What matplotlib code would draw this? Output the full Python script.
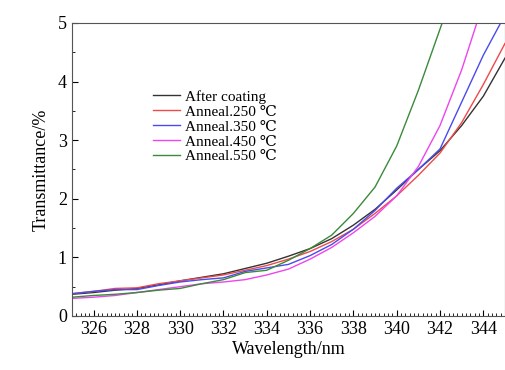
import matplotlib
matplotlib.use("Agg")
import matplotlib.pyplot as plt
from matplotlib.ticker import MultipleLocator

plt.rcParams['font.family'] = ['Liberation Serif', 'DejaVu Serif', 'DejaVu Sans']

x_black = [325, 326, 327, 328, 329, 330, 331, 332, 333, 334, 335, 336, 337, 338, 339, 340, 341, 342, 343, 344, 345]
y_black = [0.37, 0.40, 0.44, 0.47, 0.53, 0.60, 0.66, 0.72, 0.81, 0.90, 1.02, 1.15, 1.32, 1.55, 1.82, 2.15, 2.50, 2.82, 3.25, 3.75, 4.40]

x_red = [325, 326, 327, 328, 329, 330, 331, 332, 333, 334, 335, 336, 337, 338, 339, 340, 341, 342, 343, 344, 345]
y_red = [0.38, 0.42, 0.47, 0.48, 0.55, 0.60, 0.65, 0.70, 0.78, 0.86, 0.97, 1.10, 1.27, 1.48, 1.75, 2.05, 2.40, 2.78, 3.30, 3.95, 4.65]

x_blue = [325, 326, 327, 328, 329, 330, 331, 332, 333, 334, 335, 336, 337, 338, 339, 340, 341, 342, 343, 344, 344.8]
y_blue = [0.38, 0.42, 0.45, 0.45, 0.52, 0.58, 0.62, 0.65, 0.76, 0.82, 0.88, 1.03, 1.22, 1.48, 1.80, 2.18, 2.50, 2.85, 3.65, 4.45, 5.0]

x_mag = [325, 326, 327, 328, 329, 330, 331, 332, 333, 334, 335, 336, 337, 338, 339, 340, 341, 342, 343, 343.7]
y_mag = [0.30, 0.32, 0.35, 0.40, 0.45, 0.50, 0.55, 0.58, 0.62, 0.70, 0.80, 0.97, 1.17, 1.42, 1.70, 2.05, 2.55, 3.25, 4.20, 5.0]

x_green = [325, 326, 327, 328, 329, 330, 331, 332, 333, 334, 335, 336, 337, 338, 339, 340, 341, 342.1]
y_green = [0.32, 0.35, 0.37, 0.40, 0.44, 0.47, 0.55, 0.62, 0.74, 0.78, 0.95, 1.15, 1.38, 1.75, 2.20, 2.90, 3.85, 5.0]

labels = ["After coating", "Anneal.250 \u2103", "Anneal.350 \u2103", "Anneal.450 \u2103", "Anneal.550 \u2103"]
colors = ["#333333", "#ee4a4a", "#4a4aee", "#ee44ee", "#3a8a3a"]

fig = plt.figure(figsize=(5.06, 3.70), dpi=100)
ax = fig.add_axes([0.142, 0.146, 0.856, 0.792])

series = [(x_black, y_black), (x_red, y_red), (x_blue, y_blue), (x_mag, y_mag), (x_green, y_green)]
for (xs, ys), lab, c in zip(series, labels, colors):
    ax.plot(xs, ys, color=c, lw=1.0, label=lab)

ax.set_xlim(325, 345)
ax.set_ylim(0, 5)
ax.set_xticks(range(326, 345, 2))
ax.xaxis.set_minor_locator(MultipleLocator(0.2))
ax.yaxis.set_major_locator(MultipleLocator(1))
ax.yaxis.set_minor_locator(MultipleLocator(0.5))
ax.tick_params(axis='both', which='both', direction='in', labelsize=13, top=False, right=False)
ax.tick_params(which='major', length=4)
ax.tick_params(which='minor', length=2)
for s in ax.spines.values():
    s.set_color('#555555')

ax.set_xlabel("Wavelength/nm", fontsize=13, labelpad=2)
ax.set_ylabel("Transmittance/%", fontsize=13, labelpad=6)

ax.legend(loc='upper left', bbox_to_anchor=(0.187, 0.771), frameon=False, fontsize=11,
          labelspacing=0.08, handlelength=1.8, handletextpad=0.3, borderpad=0,
          borderaxespad=0)

fig.savefig("out.png", dpi=100)
